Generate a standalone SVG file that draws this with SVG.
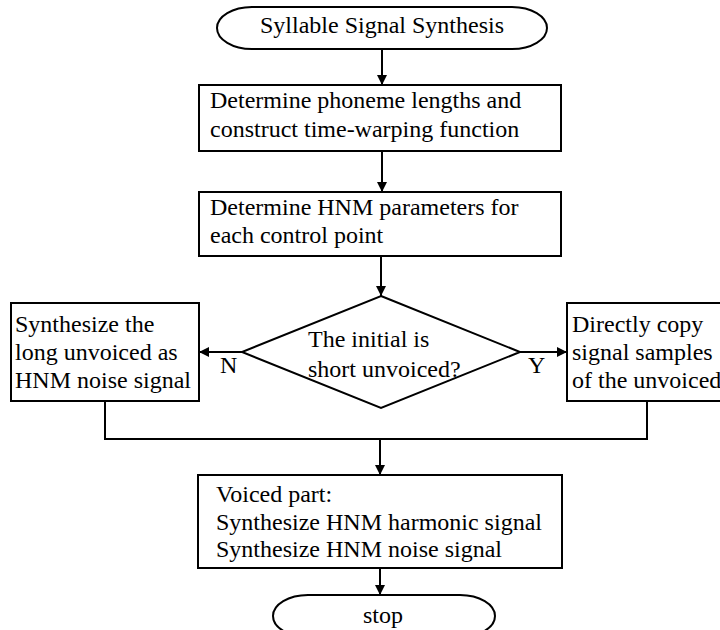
<svg xmlns="http://www.w3.org/2000/svg" width="720" height="630" viewBox="0 0 720 630" font-family="'Liberation Serif', 'Times New Roman', serif">
<defs>
<style>
.s{fill:#fff;stroke:#000;stroke-width:2}
.t{font-family:'Liberation Serif','Times New Roman',serif;font-size:24px;fill:#000}
.c{fill:none;stroke:#000;stroke-width:2}
.m{text-anchor:middle}
</style>
<marker id="ah" viewBox="0 0 10 10" refX="10" refY="5" markerWidth="10" markerHeight="10" markerUnits="userSpaceOnUse" orient="auto">
<path d="M0,0 L10,5 L0,10 Z" fill="#000"/>
</marker>
</defs>
<rect width="720" height="630" fill="#fff"/>
<g id="connectors">
<line class="c" x1="382" y1="48" x2="382" y2="85" marker-end="url(#ah)"/>
<line class="c" x1="382" y1="151" x2="382" y2="192" marker-end="url(#ah)"/>
<line class="c" x1="381" y1="256" x2="381" y2="296" marker-end="url(#ah)"/>
<line class="c" x1="242" y1="352" x2="199" y2="352" marker-end="url(#ah)"/>
<line class="c" x1="520" y1="352" x2="567" y2="352" marker-end="url(#ah)"/>
<polyline class="c" points="105,401 105,439 647,439 647,401"/>
<line class="c" x1="380" y1="439" x2="380" y2="475" marker-end="url(#ah)"/>
<line class="c" x1="380" y1="568" x2="380" y2="595" marker-end="url(#ah)"/>
<text class="t" x="220" y="373">N</text>
<text class="t" x="528" y="373">Y</text>
</g>
<g id="start">
<path class="s" d="M252,7 H512 A35,21 0 0 1 512,49 H252 A35,21 0 0 1 252,7 Z"/>
<text class="t m" x="382" y="33">Syllable Signal Synthesis</text>
</g>
<g id="box1">
<rect class="s" x="199" y="85" width="362" height="66"/>
<text class="t" x="210" y="108">Determine phoneme lengths and</text>
<text class="t" x="210" y="137">construct time-warping function</text>
</g>
<g id="box2">
<rect class="s" x="199" y="192" width="362" height="64"/>
<text class="t" x="210" y="215">Determine HNM parameters for</text>
<text class="t" x="210" y="243">each control point</text>
</g>
<g id="decision">
<polygon class="s" points="381,296 520,352 381,408 242,352"/>
<text class="t" x="308" y="347">The initial is</text>
<text class="t" x="308" y="377">short unvoiced?</text>
</g>
<g id="left">
<rect class="s" x="11" y="303" width="188" height="98"/>
<text class="t" x="15" y="332">Synthesize the</text>
<text class="t" x="15" y="360">long unvoiced as</text>
<text class="t" x="15" y="388">HNM noise signal</text>
</g>
<g id="right">
<rect class="s" x="567" y="303" width="160" height="98"/>
<text class="t" x="572" y="332">Directly copy</text>
<text class="t" x="572" y="360">signal samples</text>
<text class="t" x="572" y="388">of the unvoiced</text>
</g>
<g id="voiced">
<rect class="s" x="198" y="475" width="364" height="93"/>
<text class="t" x="216" y="502">Voiced part:</text>
<text class="t" x="216" y="530">Synthesize HNM harmonic signal</text>
<text class="t" x="216" y="557">Synthesize HNM noise signal</text>
</g>
<g id="stop">
<path class="s" d="M308,595 H460 A35,21 0 0 1 460,637 H308 A35,21 0 0 1 308,595 Z"/>
<text class="t m" x="383" y="623">stop</text>
</g>
</svg>
